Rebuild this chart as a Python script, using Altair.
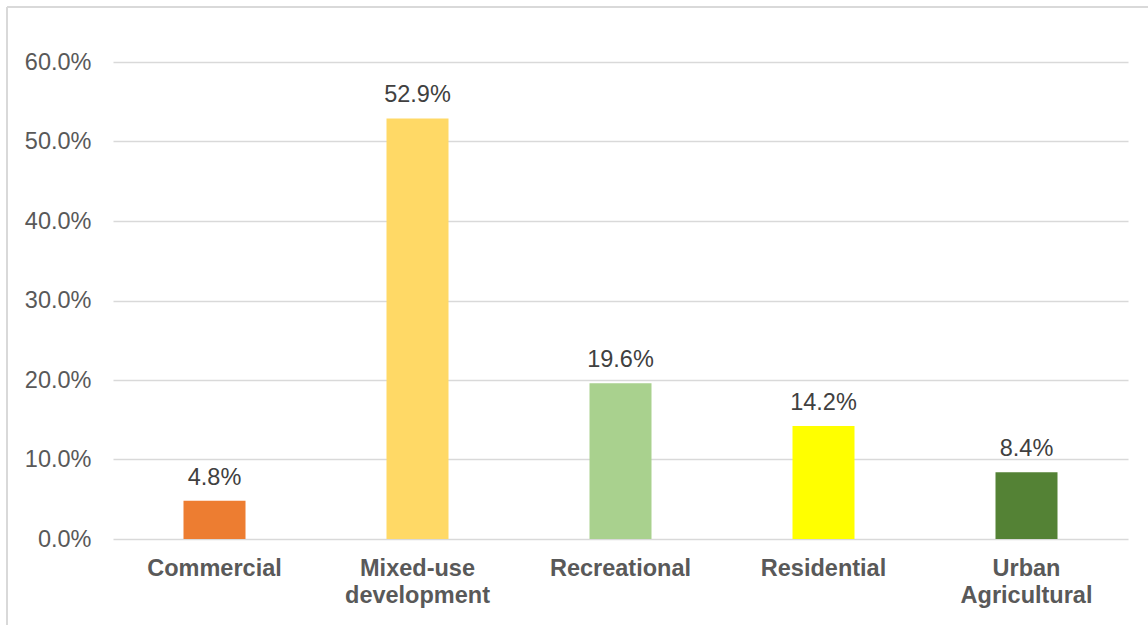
import altair as alt
import pandas as pd

categories = ["Commercial", "Mixed-use development", "Recreational", "Residential", "Urban Agricultural"]
values = [0.048, 0.529, 0.196, 0.142, 0.084]
colors = ["#ED7D31", "#FFD966", "#A9D18E", "#FFFF00", "#548235"]
y_ticks = [0.0, 0.1, 0.2, 0.3, 0.4, 0.5, 0.6]

df = pd.DataFrame({"cat": categories, "val": values, "color": colors})

FONT = "Liberation Sans, Arial"

x = alt.X("cat:N", sort=categories, title=None,
          scale=alt.Scale(paddingInner=0, paddingOuter=0),
          axis=alt.Axis(labelAngle=0, labelExpr="split(datum.label, ' ')",
                        labelFontWeight="bold", labelFontSize=23.5, labelColor="#595959",
                        labelFont=FONT, labelLineHeight=27, labelPadding=17,
                        ticks=False, domain=False, grid=False))
y = alt.Y("val:Q", title=None,
          scale=alt.Scale(domain=[0, 0.6], nice=False),
          axis=alt.Axis(values=y_ticks, format=".1%", labelFontSize=23.5,
                        labelColor="#595959", labelFont=FONT, labelPadding=22,
                        ticks=False, domain=False, gridColor="#d9d9d9", gridWidth=1.5))

bars = alt.Chart(df).mark_bar(size=62).encode(
    x=x, y=y, color=alt.Color("color:N", scale=None)
)
labels = alt.Chart(df).mark_text(baseline="alphabetic", dy=-16, fontSize=23.5,
                                 color="#404040", font=FONT).encode(
    x=alt.X("cat:N", sort=categories), y="val:Q", text=alt.Text("val:Q", format=".1%")
)
border_top = alt.Chart(df).mark_rule(color="#d9d9d9", strokeWidth=1.5).encode(
    x=alt.value(-106), x2=alt.value(1100), y=alt.value(-55)
)
border_left = alt.Chart(df).mark_rule(color="#d9d9d9", strokeWidth=1.5).encode(
    x=alt.value(-106), y=alt.value(-55), y2=alt.value(600)
)

chart = alt.layer(border_top, border_left, bars, labels).properties(
    width=1015, height=477,
    autosize=alt.AutoSizeParams(type="none"),
    padding={"left": 113, "top": 62, "right": 20, "bottom": 86},
    background="white",
).configure_view(stroke=None)

chart.save("out.html", embed_options={"renderer": "svg", "actions": False})
